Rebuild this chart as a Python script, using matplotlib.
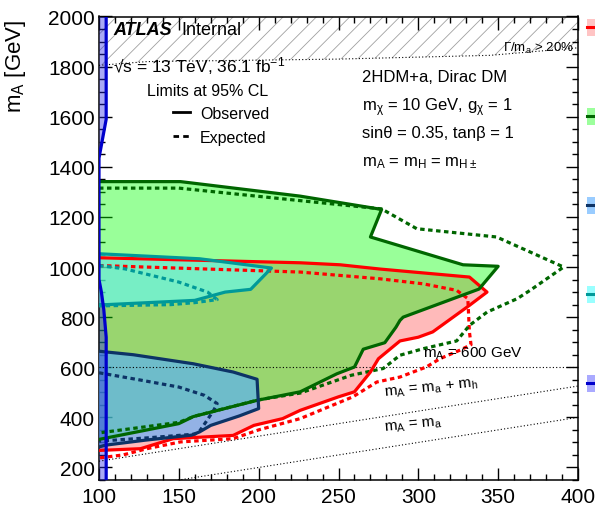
import numpy as np
import matplotlib.pyplot as plt
from matplotlib.patches import Rectangle
from matplotlib.lines import Line2D
from matplotlib.ticker import MultipleLocator

plt.rcParams['font.family'] = ['Liberation Sans', 'DejaVu Sans']
plt.rcParams['mathtext.fontset'] = 'custom'
plt.rcParams['mathtext.rm'] = 'Liberation Sans'
plt.rcParams['mathtext.it'] = 'Liberation Sans:italic'
plt.rcParams['mathtext.bf'] = 'Liberation Sans:bold'
plt.rcParams['mathtext.default'] = 'regular'
plt.rcParams['hatch.color'] = '#a0a0a0'
plt.rcParams['hatch.linewidth'] = 0.6

# exclusion contours in the (m_a, m_A) plane [GeV]
green_obs_ma = [100, 151, 226, 277, 270, 328, 350, 338, 290.5, 288.5, 286, 279, 265.5, 260, 249, 226, 199, 159, 150, 100]
green_obs_mA = [1341, 1341, 1283, 1230, 1120, 1009, 1003, 912, 800, 787, 760, 698, 672, 601, 574, 502, 468, 403, 375, 312]
green_exp_ma = [100, 150, 226, 277, 299, 349, 391, 370, 362, 343, 332, 324, 303, 288.5, 278, 258, 226, 200, 160, 150, 100]
green_exp_mA = [1315, 1315, 1265, 1232, 1153, 1120, 1000, 907, 874, 820, 767, 705, 674, 648, 595, 568, 497, 470, 405, 380, 338]

red_obs_ma = [100, 226, 251, 276, 332, 343, 332, 309, 300, 288.5, 275, 270, 260, 250, 226, 215, 197, 184, 146.5, 126, 100]
red_obs_mA = [1037, 1017, 1009, 992, 960, 900, 847, 741, 720, 705, 634, 581, 502, 482, 428, 395, 368, 328, 315, 275, 268]
red_exp_ma = [100, 226, 276, 303, 324, 331, 332, 333, 326, 313.5, 305, 288.5, 274, 259, 226, 200, 184, 151, 130, 115, 100]
red_exp_mA = [1006, 980, 953, 933, 907, 874, 741, 690, 668, 634, 601, 561, 541, 482, 395, 350, 315, 302, 275, 250, 238]

cyan_obs_ma = [100, 163, 179, 208, 195, 179, 160, 105, 100]
cyan_obs_mA = [1053, 1033, 1020, 996, 911, 900, 867, 850, 850]
cyan_exp_ma = [100, 116, 150, 168, 174, 160, 145, 110, 100]
cyan_exp_mA = [1006, 993, 940, 900, 870, 858, 850, 846, 845]

navy_obs_ma = [100, 121.5, 159, 184, 199, 200, 188, 170, 163, 158, 129, 104, 100]
navy_obs_mA = [664, 650, 614, 581, 552, 435, 406, 368, 342, 329, 309, 289, 282]
navy_exp_ma = [100, 125, 150, 166, 174, 172, 167, 163, 160, 130, 100]
navy_exp_mA = [578, 550, 521, 488, 455, 430, 382, 345, 333, 318, 305]

blue_obs_ma = [104.5, 104.5, 100, 100, 101.5, 103, 104.5, 104.5]
blue_obs_mA = [2000, 1590, 1435, 950, 900, 830, 720, 150]

# large-width boundary (Gamma/m_a > 20%)
width_ma = [100, 130, 250, 345, 400]
width_mA = [1805, 1820, 1830, 1845, 1875]

fig = plt.figure(figsize=(5.95, 5.06), dpi=100)
ax = fig.add_axes([99 / 595, 1 - 481 / 506, 479 / 595, 463.5 / 506])
ax.set_xlim(100, 400)
ax.set_ylim(150, 2000)

# fills (semi-transparent, drawn bottom-up)
ax.fill(red_obs_ma, red_obs_mA, color=(1, 0, 0), alpha=0.27, lw=0, zorder=1)
ax.fill(green_obs_ma, green_obs_mA, color=(0, 1, 0), alpha=0.4, lw=0, zorder=2)
ax.fill(navy_obs_ma, navy_obs_mA, color=(86 / 255, 175 / 255, 1), alpha=0.64, lw=0, zorder=3)
ax.fill(cyan_obs_ma, cyan_obs_mA, color=(97 / 255, 1, 1), alpha=0.6, lw=0, zorder=3)
ax.fill_betweenx(blue_obs_mA, 100, blue_obs_ma, color=(40 / 255, 40 / 255, 230 / 255), alpha=0.4, lw=0, zorder=4)

# hatched region
ax.fill_between(width_ma, width_mA, 2000, facecolor='none', edgecolor='#a0a0a0', hatch='//', lw=0, zorder=1)
ax.plot(width_ma, width_mA, color='k', lw=0.8, ls=(0, (1, 2)), zorder=5)

# reference lines
mx = np.array([100, 400])
ax.plot(mx, [600, 600], color='k', lw=0.8, ls=(0, (1, 2)), zorder=5)
ax.plot(mx, mx + 125, color='k', lw=0.8, ls=(0, (1, 2)), zorder=5)
ax.plot(mx, mx, color='k', lw=0.8, ls=(0, (1, 2)), zorder=5)

dash = (0, (1.4, 1.1))
lw = 2.3
ax.plot(red_exp_ma, red_exp_mA, color='#ff0000', lw=lw, ls=dash, zorder=6)
ax.plot(green_exp_ma, green_exp_mA, color='#006600', lw=lw, ls=dash, zorder=6)
ax.plot(cyan_exp_ma, cyan_exp_mA, color='#009999', lw=lw, ls=dash, zorder=6)
ax.plot(navy_exp_ma, navy_exp_mA, color='#0d3366', lw=lw, ls=dash, zorder=6)
ax.plot(red_obs_ma, red_obs_mA, color='#ff0000', lw=lw, zorder=7)
ax.plot(green_obs_ma, green_obs_mA, color='#006600', lw=lw, zorder=7)
ax.plot(cyan_obs_ma, cyan_obs_mA, color='#009999', lw=lw, zorder=7)
ax.plot(navy_obs_ma, navy_obs_mA, color='#0d3366', lw=lw, zorder=7)
ax.plot(blue_obs_ma, blue_obs_mA, color='#0000cc', lw=lw, zorder=7)

# axes
ax.xaxis.set_major_locator(MultipleLocator(50))
ax.xaxis.set_minor_locator(MultipleLocator(10))
ax.yaxis.set_major_locator(MultipleLocator(200))
ax.yaxis.set_minor_locator(MultipleLocator(50))
ax.tick_params(which='both', direction='in', top=True, right=True, labelsize=15, width=1)
ax.tick_params(which='major', length=9)
ax.tick_params(which='minor', length=4.5)
ax.tick_params(axis='x', pad=5)
ax.tick_params(axis='y', pad=3)
for s in ax.spines.values():
    s.set_linewidth(1.1)
ax.set_ylabel('m$_{\\rm A}$ [GeV]', fontsize=16, loc='top')
ax.yaxis.set_label_coords(-0.148, 0.995)

# labels
ax.text(0.029, 0.962, 'ATLAS', transform=ax.transAxes, fontsize=13, fontweight='bold', style='italic')
ax.text(0.171, 0.962, 'Internal', transform=ax.transAxes, fontsize=13)
ax.text(0.029, 0.882, '√s = 13 TeV, 36.1 fb$^{-1}$', transform=ax.transAxes, fontsize=12.5)
ax.text(0.100, 0.831, 'Limits at 95% CL', transform=ax.transAxes, fontsize=11.5)
ax.plot([0.1545, 0.19], [0.794, 0.794], color='k', lw=2, transform=ax.transAxes)
ax.text(0.211, 0.781, 'Observed', transform=ax.transAxes, fontsize=11.5)
ax.plot([0.1545, 0.19], [0.742, 0.742], color='k', lw=2, ls=(0, (2, 1.5)), transform=ax.transAxes)
ax.text(0.211, 0.729, 'Expected', transform=ax.transAxes, fontsize=11.5)

ax.text(0.549, 0.861, '2HDM+a, Dirac DM', transform=ax.transAxes, fontsize=12)
ax.text(0.549, 0.798, 'm$_{\\chi}$ = 10 GeV, g$_{\\chi}$ = 1', transform=ax.transAxes, fontsize=12)
ax.text(0.549, 0.740, 'sinθ = 0.35, tanβ = 1', transform=ax.transAxes, fontsize=12)
ax.text(0.549, 0.680, 'm$_{\\rm A}$ = m$_{\\rm H}$ = m$_{\\rm H\\pm}$', transform=ax.transAxes, fontsize=12)

ax.text(353, 1864, 'Γ/m$_{\\rm a}$ > 20%', fontsize=9.5, zorder=8)
ax.text(303, 642, 'm$_{\\rm A}$ = 600 GeV', fontsize=11, zorder=8)
ax.text(279, 487, 'm$_{\\rm A}$ = m$_{\\rm a}$ + m$_{\\rm h}$', fontsize=11, rotation=6,
        rotation_mode='anchor', zorder=8)
ax.text(279, 347, 'm$_{\\rm A}$ = m$_{\\rm a}$', fontsize=11, rotation=6,
        rotation_mode='anchor', zorder=8)

# legend swatches on the right edge
swatches = [(28, '#ffc4c4', '#ff0000'), (117, '#9cff9c', '#006600'),
            (206, '#99ccff', '#0d3366'), (295, '#99ffff', '#009999'),
            (384, '#aaaaff', '#0000cc')]
for yc, fc, lc in swatches:
    fig.add_artist(Rectangle((587 / 595, 1 - (yc + 8.5) / 506), 10 / 595, 17 / 506,
                             transform=fig.transFigure, facecolor=fc, edgecolor='none'))
    fig.add_artist(Line2D([587 / 595, 1], [1 - yc / 506] * 2, transform=fig.transFigure,
                          color=lc, lw=2.2))

fig.savefig('out.png', dpi=100)
